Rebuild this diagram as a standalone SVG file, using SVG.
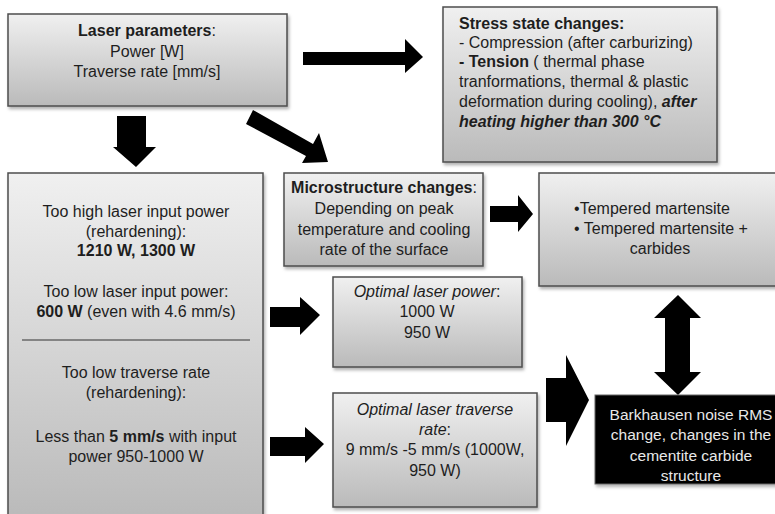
<svg xmlns="http://www.w3.org/2000/svg" width="775" height="514" viewBox="0 0 775 514">
<defs>
<linearGradient id="g" x1="0" y1="0" x2="0" y2="1">
<stop offset="0" stop-color="#f0f0f0"/>
<stop offset="1" stop-color="#bababa"/>
</linearGradient>
<filter id="sh" x="-5%" y="-5%" width="115%" height="120%">
<feDropShadow dx="1.5" dy="2.5" stdDeviation="1.5" flood-color="#000" flood-opacity="0.3"/>
</filter>
</defs>
<style>
.box{fill:url(#g);stroke:#4d4d4d;stroke-width:1.5;filter:url(#sh)}
.dark{fill:#000;stroke:#666;stroke-width:1;filter:url(#sh)}
text{font-family:"Liberation Sans",Arial,sans-serif;font-size:16px;fill:#1e1e1e}
.c{text-anchor:middle}
.w{fill:#e8e8e8;font-size:15.5px}
.b{font-weight:bold}
.i{font-style:italic}
.arrow{fill:#000}
</style>
<rect width="775" height="514" fill="#fff"/>

<g id="connectors">
<polygon class="arrow" points="303,52 405,52 405,39 423,57 405,73 405,65 303,65"/>
<polygon class="arrow" points="117,116 146,116 146,147 156,147 136,167 113,147 117,147"/>
<polygon class="arrow" points="253,110 313,144 319,133 328,162 302,163 306,156 246,124"/>
<polygon class="arrow" points="490,206 518,206 518,195 533,214 518,232 518,222 490,222"/>
<polygon class="arrow" points="270,307 300,307 300,297 320,315 300,335 300,327 270,327"/>
<polygon class="arrow" points="270,437 305,437 305,427 324,444 305,463 305,456 270,456"/>
<polygon class="arrow" points="546,378 566,378 566,355 589,400 566,446 566,422 546,422"/>
<polygon class="arrow" points="678,295 701,318 690,318 690,372 701,372 678,395 654,372 665,372 665,318 654,318"/>
</g>

<g id="laser-parameters">
<rect class="box" x="8" y="14" width="279" height="92"/>
<text class="c" x="147" y="36"><tspan class="b">Laser parameters</tspan>:</text>
<text class="c" x="147" y="57">Power [W]</text>
<text class="c" x="147" y="77">Traverse rate [mm/s]</text>
</g>

<g id="stress-state">
<rect class="box" x="443" y="7" width="274" height="155"/>
<text x="459" y="29" class="b">Stress state changes:</text>
<text x="459" y="48">- Compression  (after carburizing)</text>
<text x="459" y="67"><tspan class="b">- Tension</tspan> ( thermal phase</text>
<text x="459" y="87">tranformations, thermal &amp; plastic</text>
<text x="459" y="107">deformation during cooling), <tspan class="b i">after</tspan></text>
<text x="459" y="127" class="b i">heating higher than 300 °C</text>
</g>

<g id="process-window">
<rect class="box" x="8" y="173" width="255" height="345"/>
<text class="c" x="136" y="217">Too high laser input power</text>
<text class="c" x="136" y="237">(rehardening):</text>
<text class="c b" x="136" y="256">1210 W, 1300 W</text>
<text class="c" x="136" y="297">Too low laser input power:</text>
<text class="c" x="136" y="317"><tspan class="b">600 W</tspan> (even with 4.6 mm/s)</text>
<line x1="22" y1="340" x2="250" y2="340" stroke="#333" stroke-width="1"/>
<text class="c" x="136" y="378">Too low traverse rate</text>
<text class="c" x="136" y="398">(rehardening):</text>
<text class="c" x="136" y="442">Less than <tspan class="b">5 mm/s</tspan>  with input</text>
<text class="c" x="136" y="462">power 950-1000 W</text>
</g>

<g id="microstructure">
<rect class="box" x="284" y="173" width="199" height="93"/>
<text class="c" x="384" y="193"><tspan class="b">Microstructure changes</tspan>:</text>
<text class="c" x="384" y="214">Depending on peak</text>
<text class="c" x="384" y="235">temperature and cooling</text>
<text class="c" x="384" y="255">rate of the surface</text>
</g>

<g id="tempered">
<rect class="box" x="539" y="173" width="240" height="113"/>
<text class="c" x="652" y="214">•Tempered martensite</text>
<text class="c" x="661" y="234">• Tempered martensite +</text>
<text class="c" x="660" y="254">carbides</text>
</g>

<g id="optimal-power">
<rect class="box" x="333" y="277" width="189" height="90"/>
<text class="c" x="427" y="297"><tspan class="i">Optimal laser power</tspan>:</text>
<text class="c" x="427" y="317">1000 W</text>
<text class="c" x="427" y="338">950 W</text>
</g>

<g id="optimal-traverse">
<rect class="box" x="333" y="393" width="204" height="114"/>
<text class="c i" x="435" y="415">Optimal laser traverse</text>
<text class="c" x="435" y="435"><tspan class="i">rate</tspan>:</text>
<text class="c" x="435" y="455">9 mm/s -5 mm/s (1000W,</text>
<text class="c" x="435" y="476">950 W)</text>
</g>

<g id="barkhausen">
<rect class="dark" x="595" y="395" width="184" height="89"/>
<text class="c w" x="691" y="420">Barkhausen noise RMS</text>
<text class="c w" x="691" y="440">change, changes in the</text>
<text class="c w" x="691" y="461">cementite carbide</text>
<text class="c w" x="691" y="481">structure</text>
</g>
</svg>
